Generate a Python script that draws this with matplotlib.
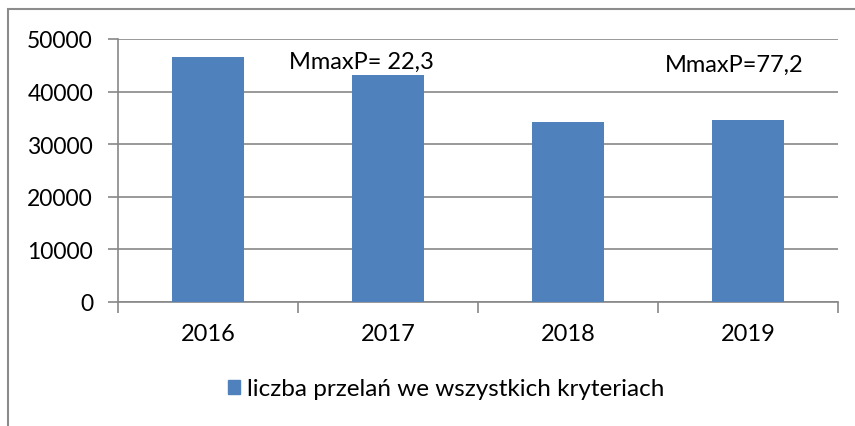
import matplotlib.pyplot as plt
from matplotlib.patches import Rectangle, Patch

years = ["2016", "2017", "2018", "2019"]
transfers = [46600, 43100, 34200, 34600]
notes = ["MmaxP= 22,3", "MmaxP=77,2"]
note_x = [0.45, 2.54]
note_y = [45700, 45200]
yticks = [0, 10000, 20000, 30000, 40000, 50000]

plt.rcParams['font.family'] = ['Lato', 'DejaVu Sans']
bar_color = "#4F81BD"
grid_color = "#878787"

fig = plt.figure(figsize=(8.55, 4.27), dpi=100)
ax = fig.add_axes([118 / 855, 1 - 303 / 427, 720 / 855, 263 / 427])

x = range(len(years))
ax.bar(x, transfers, width=0.4, color=bar_color, zorder=3)

ax.set_xlim(-0.5, len(years) - 0.5)
ax.set_ylim(0, 50000)
ax.set_yticks(yticks)
ax.set_yticklabels([str(v) for v in yticks], fontsize=16.5)
ax.yaxis.grid(True, color=grid_color, linewidth=1.2, zorder=0)

# category labels in the middle, tick marks on the boundaries
ax.set_xticks(list(x))
ax.set_xticklabels(years, fontsize=17)
ax.tick_params(axis='x', length=0, pad=15)
ax.set_xticks([i - 0.5 for i in range(len(years) + 1)], minor=True)
ax.tick_params(axis='x', which='minor', length=8, color=grid_color, width=1.2)
ax.tick_params(axis='y', length=7, color=grid_color, width=1.2, pad=11)

for side in ["top", "right"]:
    ax.spines[side].set_visible(False)
for side in ["left", "bottom"]:
    ax.spines[side].set_color(grid_color)
    ax.spines[side].set_linewidth(1.2)

for t, tx, ty in zip(notes, note_x, note_y):
    ax.text(tx, ty, t, fontsize=17, va="center", ha="left", zorder=4)

fig.legend(handles=[Patch(color=bar_color)],
           labels=["liczba przelań we wszystkich kryteriach"],
           loc="center", bbox_to_anchor=(446 / 855, 1 - 390 / 427),
           frameon=False, fontsize=17.5, handlelength=0.5, handleheight=0.5,
           handletextpad=0.3)

# chart area frame
fig.patches.append(Rectangle((8 / 855, -0.1), 1.2, 1.1 - 10 / 427,
                             transform=fig.transFigure, fill=False,
                             edgecolor="#8c8c8c", linewidth=1.5))

fig.savefig("out.png", dpi=100)
